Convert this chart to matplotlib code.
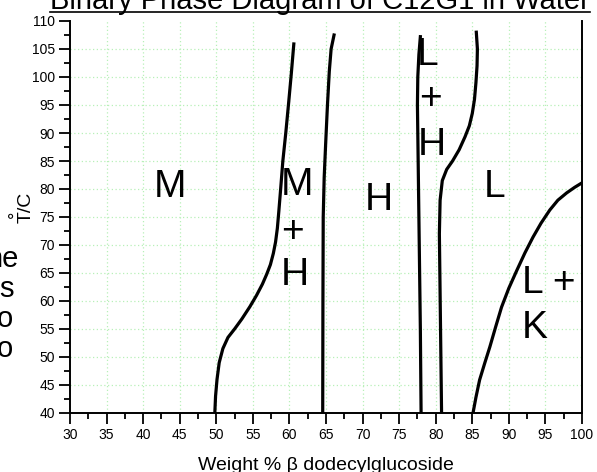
import matplotlib
matplotlib.use("Agg")
import matplotlib.pyplot as plt
from matplotlib.ticker import MultipleLocator
from matplotlib.lines import Line2D

plt.rcParams['font.family'] = ['Liberation Sans', 'DejaVu Sans']

# ---- phase boundaries (wt% , T/C) ----
mh_x = [49.8, 49.9, 50.1, 50.4, 50.9, 51.6, 52.5, 53.5, 54.6, 55.5, 56.3, 56.9,
        57.4, 57.8, 58.1, 58.35, 58.55, 58.8, 59.1, 59.5, 59.9, 60.25, 60.6]
mh_y = [40.0, 43.0, 46.0, 49.0, 51.5, 53.5, 55.0, 56.8, 59.0, 61.0, 63.0, 64.8,
        66.5, 68.5, 70.5, 73.0, 76.0, 80.0, 85.0, 90.0, 95.5, 100.5, 105.9]

h_left_x = [64.55, 64.58, 64.62, 64.75, 64.95, 65.2, 65.45, 65.7, 66.1]
h_left_y = [40.0, 60.0, 75.0, 82.0, 88.0, 95.0, 101.0, 105.0, 107.5]

h_right_x = [78.0, 77.9, 77.75, 77.6, 77.5, 77.55, 77.7, 77.9]
h_right_y = [40.0, 55.0, 70.0, 85.0, 95.0, 100.0, 104.0, 107.2]

lh_x = [80.8, 80.65, 80.5, 80.6, 80.9, 81.5, 82.3, 83.2, 84.0, 84.6, 85.0,
        85.3, 85.5, 85.65, 85.7, 85.55]
lh_y = [40.0, 56.0, 72.0, 78.0, 81.5, 83.5, 85.0, 87.0, 89.3, 91.3, 93.5,
        96.0, 99.0, 102.0, 105.0, 108.0]

lk_x = [85.1, 85.5, 86.0, 86.7, 87.4, 88.2, 89.0, 90.0, 91.1, 92.2, 93.3,
        94.4, 95.6, 96.7, 97.9, 99.0, 100.0]
lk_y = [40.0, 42.8, 45.9, 48.9, 51.8, 55.4, 58.9, 62.3, 65.5, 68.6, 71.4,
        73.9, 76.25, 78.0, 79.3, 80.3, 81.1]

boundaries = [(mh_x, mh_y), (h_left_x, h_left_y), (h_right_x, h_right_y),
              (lh_x, lh_y), (lk_x, lk_y)]

# region labels: text, x, baseline y, alignment
region_labels = [
    ("M", 43.67, 78.6, 'center'),
    ("M", 61.04, 78.9, 'center'),
    ("+", 60.45, 70.6, 'center'),
    ("H", 60.76, 62.9, 'center'),
    ("H", 72.2, 76.25, 'center'),
    ("L", 77.45, 102.1, 'left'),
    ("+", 79.3, 94.2, 'center'),
    ("H", 79.4, 86.1, 'center'),
    ("L", 86.6, 78.6, 'left'),
    ("L +", 91.8, 61.4, 'left'),
    ("K", 91.8, 53.4, 'left'),
]

title = "Binary Phase Diagram of C12G1 in Water"
xlabel = "Weight % β dodecylglucoside"
ylabel = "T/C"
ylabel_ring = "°"

# bits of a neighbouring text box cut off at the left edge: text, right x px, baseline px
side_bits = [("ne", 18, 267), ("s", 14, 297), ("o", 13, 327), ("o", 13, 357)]

W, H = 597, 472
fig = plt.figure(figsize=(W / 100, H / 100), dpi=100)
ax = fig.add_axes([70 / W, 1 - 413 / H, 512 / W, 392 / H])

grid_col = '#b8f0b8'
for v in range(35, 100, 5):
    ax.axvline(v, color=grid_col, lw=0.9, ls=(0, (1, 2)), zorder=0)
for v in range(45, 110, 5):
    ax.axhline(v, color=grid_col, lw=0.9, ls=(0, (1, 2)), zorder=0)

for xs, ys in boundaries:
    ax.plot(xs, ys, color='black', lw=2.3, solid_joinstyle='round', zorder=3)

for txt, x, y, ha in region_labels:
    ax.text(x, y, txt, fontsize=28, ha=ha, va='baseline', zorder=4)

ax.set_xlim(30, 100)
ax.set_ylim(40, 110)
ax.xaxis.set_major_locator(MultipleLocator(5))
ax.xaxis.set_minor_locator(MultipleLocator(2.5))
ax.yaxis.set_major_locator(MultipleLocator(5))
ax.yaxis.set_minor_locator(MultipleLocator(2.5))
ax.spines['top'].set_visible(False)
for s in ['left', 'bottom', 'right']:
    ax.spines[s].set_linewidth(1.4)
ax.tick_params(which='major', direction='out', length=8, width=1.3, labelsize=10, pad=3)
ax.tick_params(which='minor', direction='out', length=4, width=1.3)
ax.tick_params(which='both', top=False, right=False)

fig.text(326 / W, 1 - 465 / H, xlabel, fontsize=14, ha='center', va='center')
fig.text(30.5 / W, 1 - 207.5 / H, ylabel, fontsize=14, rotation=90,
         rotation_mode='anchor', ha='center', va='baseline')
fig.text(16.5 / W, 1 - 214.5 / H, ylabel_ring, fontsize=13, rotation=90,
         rotation_mode='anchor', ha='center', va='center')

t = fig.text(320 / W, 1 - 9 / H, title, fontsize=21, ha='center', va='baseline')
fig.canvas.draw()
bb = t.get_window_extent()
fig.add_artist(Line2D([bb.x0 / W, bb.x1 / W], [1 - 11.5 / H, 1 - 11.5 / H],
                      transform=fig.transFigure, color='black', lw=1.2))

for txt, xr, yb in side_bits:
    fig.text(xr / W, 1 - yb / H, txt, fontsize=21, ha='right', va='baseline')

fig.savefig('out.png', dpi=100)
